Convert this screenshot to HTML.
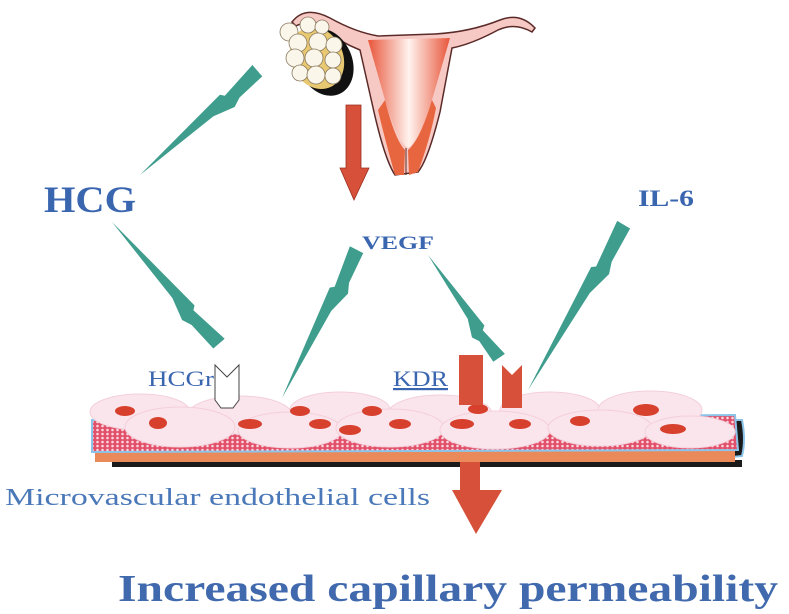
<!DOCTYPE html>
<html><head><meta charset="utf-8"><style>
html,body{margin:0;padding:0;background:#fff;}
svg{display:block;}
</style></head><body>
<svg width="789" height="614" viewBox="0 0 789 614" xmlns="http://www.w3.org/2000/svg">
<defs>
<pattern id="dots" width="5" height="4" patternUnits="userSpaceOnUse">
<rect width="5" height="4" fill="#e2506a"/>
<circle cx="2.5" cy="2" r="1.3" fill="#f8d8e0"/>
</pattern>
<linearGradient id="ut" x1="0" y1="0" x2="1" y2="0">
<stop offset="0" stop-color="#e8553a"/><stop offset="0.5" stop-color="#fff3ee"/><stop offset="1" stop-color="#e8553a"/>
</linearGradient>
</defs>

<!-- uterus -->
<path d="M292,22 Q305,5 330,18 Q355,32 378,36 L435,34 Q470,32 500,20 Q520,12 535,28 L532,32 Q515,22 498,30 Q472,44 452,48 L440,112 Q428,160 418,172 L395,175 Q385,160 374,112 L360,50 Q340,42 325,30 Q305,20 296,26 Z" fill="#f7c9c4" stroke="#5a2a28" stroke-width="1.5"/>
<path d="M368,40 L450,38 L432,100 Q420,140 408,148 Q396,140 385,100 Z" fill="url(#ut)"/>
<path d="M385,100 Q395,140 405,150 L404,175 L395,175 Q385,140 378,110 Z" fill="#e8663f"/>
<path d="M432,100 Q420,140 408,150 L409,175 L418,172 Q430,140 436,108 Z" fill="#e8663f"/>
<line x1="406" y1="148" x2="406" y2="175" stroke="#5a2a28" stroke-width="1"/>

<!-- ovary -->
<ellipse cx="325" cy="62" rx="27" ry="35" transform="rotate(-25 325 62)" fill="#111"/>
<ellipse cx="317" cy="58" rx="26" ry="32" transform="rotate(-25 317 58)" fill="#e8c870"/>
<g fill="#fbf6ea" stroke="#8a7a60" stroke-width="0.8">
<circle cx="289" cy="32" r="9"/><circle cx="308" cy="25" r="8"/><circle cx="322" cy="27" r="7"/>
<circle cx="298" cy="43" r="9"/><circle cx="318" cy="42" r="9"/><circle cx="334" cy="45" r="8"/>
<circle cx="295" cy="58" r="9"/><circle cx="314" cy="58" r="9"/><circle cx="333" cy="60" r="8"/>
<circle cx="300" cy="73" r="8"/><circle cx="316" cy="75" r="9"/><circle cx="333" cy="76" r="8"/>
</g>

<!-- red arrow from uterus -->
<polygon points="346,105 361,105 361,168 369,168 354,200 340,168 346,168" fill="#d6503a" stroke="#9a3020" stroke-width="0.8"/>

<!-- teal lightning arrows -->
<g fill="#3f9d8d">
<polygon transform="translate(140,175) rotate(-41.1)" points="0,0 113,-8 116,-4 157,-9 157,6 126,7 116,11 94,4"/>
<polygon transform="translate(112,222) rotate(49.2)" points="0,0 117,-8 120,-4 162,-9 162,6 130,7 120,11 97,4"/>
<polygon transform="translate(282,398) rotate(-62.8)" points="0,0 120,-8 123,-4 166,-9 166,6 133,7 123,11 100,4"/>
<polygon transform="translate(428,255) rotate(55.8)" points="0,0 90,-7 93,-3 125,-8 125,6 100,6 93,10 75,3"/>
<polygon transform="translate(528,390) rotate(-59.5)" points="0,0 138,-8 141,-4 191,-9 191,6 153,7 141,11 115,4"/>
</g>

<!-- membrane -->
<rect x="112" y="460" width="630" height="7" fill="#1a1a1a"/>
<path d="M722,420 L742,420 Q746,440 742,456 L722,458 Z" fill="#1a1a1a" stroke="#8cc3e8" stroke-width="2"/>
<rect x="95" y="448" width="640" height="14" fill="#ea8a5a"/>
<path d="M92,420 L735,415 L738,450 L92,452 Z" fill="url(#dots)" stroke="#8cc3e8" stroke-width="2"/>
<g fill="#fbe5ec" stroke="#f3cfd9" stroke-width="1">
<ellipse cx="140" cy="412" rx="50" ry="18"/><ellipse cx="240" cy="415" rx="52" ry="19"/>
<ellipse cx="340" cy="410" rx="50" ry="18"/><ellipse cx="440" cy="414" rx="52" ry="19"/>
<ellipse cx="550" cy="410" rx="50" ry="18"/><ellipse cx="650" cy="410" rx="52" ry="19"/>
<ellipse cx="180" cy="427" rx="55" ry="20"/><ellipse cx="290" cy="430" rx="52" ry="18"/>
<ellipse cx="390" cy="428" rx="54" ry="19"/><ellipse cx="495" cy="430" rx="55" ry="19"/>
<ellipse cx="600" cy="428" rx="52" ry="18"/><ellipse cx="690" cy="432" rx="45" ry="16"/>
</g>
<g fill="#d8402e">
<ellipse cx="125" cy="411" rx="10" ry="5"/><ellipse cx="158" cy="423" rx="9" ry="6"/>
<ellipse cx="250" cy="424" rx="12" ry="5"/><ellipse cx="300" cy="411" rx="10" ry="5"/>
<ellipse cx="320" cy="424" rx="11" ry="5"/><ellipse cx="372" cy="411" rx="10" ry="5"/>
<ellipse cx="350" cy="430" rx="11" ry="5"/><ellipse cx="400" cy="424" rx="11" ry="5"/>
<ellipse cx="462" cy="424" rx="12" ry="5"/><ellipse cx="478" cy="409" rx="10" ry="5"/>
<ellipse cx="520" cy="424" rx="11" ry="5"/><ellipse cx="580" cy="421" rx="10" ry="5"/>
<ellipse cx="646" cy="410" rx="13" ry="6"/><ellipse cx="673" cy="429" rx="13" ry="5"/>
</g>

<!-- receptors -->
<path d="M215,365 L227,377 L239,365 L239,400 L233,408 L221,408 L215,400 Z" fill="#fff" stroke="#444" stroke-width="1"/>
<rect x="459" y="355" width="24" height="50" fill="#d6503a"/>
<polygon points="502,365 512,375 522,365 522,408 502,408" fill="#d6503a"/>

<!-- big red arrow -->
<polygon points="460,462 480,462 480,490 502,490 476,534 452,490 460,490" fill="#d6503a"/>

<!-- labels -->
<g font-family="'Liberation Serif',serif" fill="#3a66b0">
<text x="44" y="212" font-size="37" font-weight="bold" textLength="92" lengthAdjust="spacingAndGlyphs">HCG</text>
<text x="362" y="249" font-size="19" font-weight="bold" textLength="72" lengthAdjust="spacingAndGlyphs">VEGF</text>
<text x="638" y="206" font-size="23" font-weight="bold" textLength="56" lengthAdjust="spacingAndGlyphs">IL-6</text>
<text x="148" y="386" font-size="22" textLength="66" lengthAdjust="spacingAndGlyphs">HCGr</text>
<text x="393" y="386" font-size="22" text-decoration="underline" textLength="55" lengthAdjust="spacingAndGlyphs">KDR</text>
<text x="5" y="505" font-size="24" textLength="425" lengthAdjust="spacingAndGlyphs" fill="#4a78b8">Microvascular endothelial cells</text>
<text x="118" y="601" font-size="38" font-weight="bold" textLength="660" lengthAdjust="spacingAndGlyphs" fill="#4169ad">Increased capillary permeability</text>
</g>
</svg>
</body></html>
